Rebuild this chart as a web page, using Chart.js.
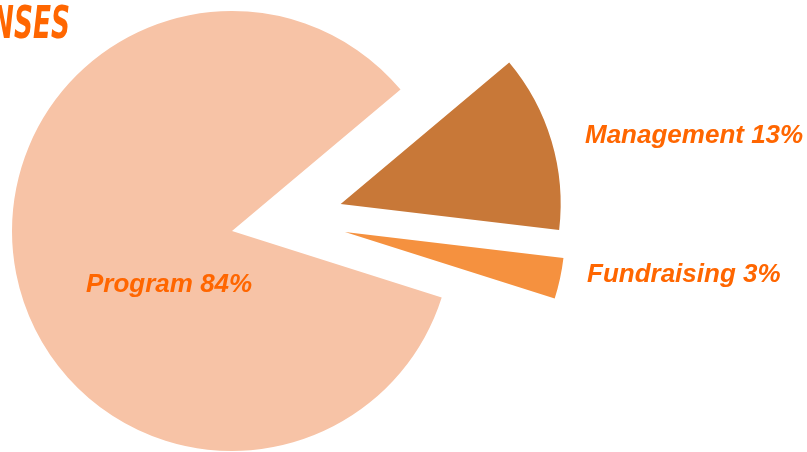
<!DOCTYPE html>
<html>
<head>
<meta charset="utf-8">
<script src="https://cdn.jsdelivr.net/npm/chart.js@4"></script>
<style>
  html, body { margin: 0; padding: 0; background: #fff; overflow: hidden; }
</style>
</head>
<body>
<canvas id="myChart" width="807" height="452"></canvas>
<script>
// expense split, in percent
const categories = ['Management', 'Fundraising', 'Program'];
const shares = [13, 3, 84];
const labelTexts = ['Management 13%', 'Fundraising 3%', 'Program 84%'];

// pulled-out slices: distance and direction (deg) of the shift
const explodeDist = [112, 113, 0];
const explodeDir = [-14, 0.5, 0];
// where each label starts (left, baseline)
const labelSpots = [[585, 143], [587, 282], [86, 292]];

const explodePlugin = {
  id: 'explode',
  afterDatasetsUpdate(chart) {
    chart.getDatasetMeta(0).data.forEach(function (arc, i) {
      var a = explodeDir[i] * Math.PI / 180;
      arc.x += explodeDist[i] * Math.cos(a);
      arc.y += explodeDist[i] * Math.sin(a);
    });
  }
};

const textPlugin = {
  id: 'texts',
  afterDraw(chart) {
    var c = chart.ctx;
    c.save();
    c.fillStyle = '#ff6600';
    c.font = 'bold italic 26px "Liberation Sans", Arial, sans-serif';
    c.textAlign = 'left';
    c.textBaseline = 'alphabetic';
    labelTexts.forEach(function (t, i) {
      c.fillText(t, labelSpots[i][0], labelSpots[i][1]);
    });
    // title, cut off at the left edge like the source
    c.scale(0.6, 1);
    c.font = 'bold italic 44px "DejaVu Sans", sans-serif';
    c.textAlign = 'right';
    c.fillText('EXPENSES', 70 / 0.6, 38);
    c.restore();
  }
};

var ctx = document.getElementById('myChart').getContext('2d');
var myChart = new Chart(ctx, {
  type: 'pie',
  data: {
    labels: categories,
    datasets: [{
      data: shares,
      backgroundColor: ['#c87838', '#f5913f', '#f7c3a6'],
      borderWidth: 0
    }]
  },
  options: {
    responsive: false,
    animation: false,
    events: [],
    rotation: 50,
    layout: { padding: { left: 12, top: 11, right: 355, bottom: 1 } },
    plugins: {
      legend: { display: false },
      tooltip: { enabled: false }
    }
  },
  plugins: [explodePlugin, textPlugin]
});
</script>
</body>
</html>
